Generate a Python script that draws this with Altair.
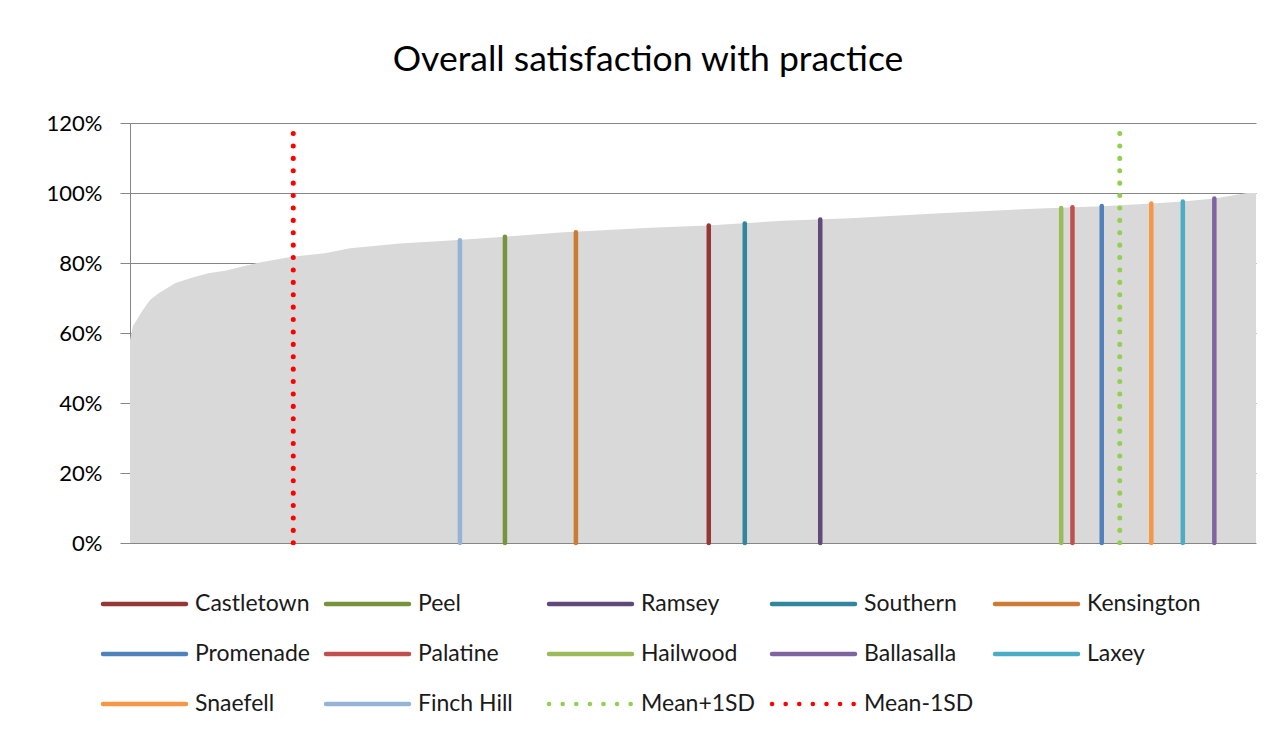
import altair as alt
import pandas as pd

# ---- data ----
curve_rank = [0, 0.27, 1.04, 1.78, 2.51, 4.0, 5.48, 6.95, 8.44, 9.92, 11.39, 14.36, 17.32,
              19.54, 23.98, 28.42, 33.3, 38.19, 46.18, 51.3, 57.99, 63.94, 71.94, 80.82,
              86.3, 90.8, 93.5, 96.3, 99.2, 100]
curve_value = [0.58, 0.62, 0.661, 0.694, 0.713, 0.742, 0.758, 0.771, 0.778, 0.789, 0.801,
               0.818, 0.828, 0.842, 0.856, 0.864, 0.875, 0.887, 0.901, 0.907, 0.921, 0.928,
               0.942, 0.956, 0.962, 0.970, 0.976, 0.984, 1.0, 1.0]

practices = ["Castletown", "Peel", "Ramsey", "Southern", "Kensington", "Promenade",
             "Palatine", "Hailwood", "Ballasalla", "Laxey", "Snaefell", "Finch Hill"]
practice_rank = [51.4, 33.3, 61.3, 54.6, 39.6, 86.3, 83.7, 82.7, 96.3, 93.5, 90.7, 29.3]
practice_score = [0.907, 0.875, 0.924, 0.913, 0.888, 0.963, 0.959, 0.957, 0.984, 0.976,
                  0.970, 0.865]

mean_names = ["Mean+1SD", "Mean-1SD"]
mean_rank = [87.9, 14.5]
mean_top = [1.17, 1.17]

y_ticks = [0, 0.2, 0.4, 0.6, 0.8, 1.0, 1.2]

# ---- styles ----
practice_colors = ["#953735", "#77933C", "#604A7B", "#31859C", "#CD7A34", "#4F81BD",
                   "#C0504D", "#9BBB59", "#8064A2", "#4BACC6", "#F79646", "#95B3D7"]
mean_colors = ["#92D050", "#FF0000"]
FONT = "Lato"
GRID = "#868686"

all_names = practices + mean_names
color_scale = alt.Scale(domain=all_names, range=practice_colors + mean_colors)

curve_df = pd.DataFrame({"rank": curve_rank, "value": curve_value})
prac_df = pd.DataFrame({"name": practices, "rank": practice_rank, "score": practice_score})
mean_df = pd.DataFrame({"name": mean_names, "rank": mean_rank, "top": mean_top})

x_scale = alt.Scale(domain=[0, 100], nice=False, zero=False)
y_scale = alt.Scale(domain=[0, 1.2], nice=False)

area = alt.Chart(curve_df).mark_area(color="#D9D9D9", interpolate="linear").encode(
    x=alt.X("rank:Q", scale=x_scale, axis=None),
    y=alt.Y("value:Q", scale=y_scale,
            axis=alt.Axis(values=y_ticks, format=".0%", title=None,
                          labelFont=FONT, labelFontSize=22, labelColor="#000000",
                          labelPadding=18, tickSize=10, tickColor=GRID, domainColor=GRID,
                          gridColor=GRID, gridWidth=1, domainWidth=1,
                          minExtent=122, maxExtent=122)),
)

prac = alt.Chart(prac_df).mark_rule(strokeWidth=4.5, strokeCap="round").encode(
    x=alt.X("rank:Q", scale=x_scale),
    y=alt.Y("score:Q", scale=y_scale),
    y2=alt.datum(0),
    color=alt.Color("name:N", scale=color_scale, legend=None),
)

means = alt.Chart(mean_df).mark_rule(strokeWidth=5, strokeCap="round",
                                     strokeDash=[0.1, 12.3]).encode(
    x=alt.X("rank:Q", scale=x_scale),
    y=alt.Y("top:Q", scale=y_scale),
    y2=alt.datum(0),
    color=alt.Color("name:N", scale=color_scale, legend=None),
)

main = alt.layer(area, prac, means).properties(width=1126, height=420)

# ---- legend (manual, 5 columns) ----
leg_df = pd.DataFrame({
    "name": all_names,
    "col": [i % 5 for i in range(len(all_names))],
    "row": [i // 5 for i in range(len(all_names))],
    "kind": ["solid"] * len(practices) + ["dotted"] * len(mean_names),
})
lx = alt.Scale(domain=[0.121, 5.26], nice=False, zero=False)
ly = alt.Scale(domain=[-0.5, 2.3], nice=False, zero=False, reverse=True)

leg_solid = alt.Chart(leg_df).transform_filter(alt.datum.kind == "solid").mark_rule(
    strokeWidth=4.5, strokeCap="round", x2Offset=83).encode(
    x=alt.X("col:Q", scale=lx, axis=None),
    x2="col:Q",
    y=alt.Y("row:Q", scale=ly, axis=None),
    color=alt.Color("name:N", scale=color_scale, legend=None),
)
leg_dot = alt.Chart(leg_df).transform_filter(alt.datum.kind == "dotted").mark_rule(
    strokeWidth=4.5, strokeCap="round", strokeDash=[0.1, 13.5], x2Offset=83).encode(
    x=alt.X("col:Q", scale=lx, axis=None),
    x2="col:Q",
    y=alt.Y("row:Q", scale=ly, axis=None),
    color=alt.Color("name:N", scale=color_scale, legend=None),
)
leg_text = alt.Chart(leg_df).mark_text(align="left", baseline="middle", dx=92,
                                       font=FONT, fontSize=23, color="#1a1a1a").encode(
    x=alt.X("col:Q", scale=lx, axis=None),
    y=alt.Y("row:Q", scale=ly, axis=None),
    text="name:N",
)
legend = alt.layer(leg_solid, leg_dot, leg_text).properties(width=1146, height=140)

chart = alt.vconcat(main, legend, spacing=25).properties(
    title=alt.Title("Overall satisfaction with practice", font=FONT, fontSize=35.5,
                    fontWeight="normal", color="#000000", anchor="middle", offset=34,
                    dx=6),
    padding={"top": 34, "left": 0, "right": 0, "bottom": 0},
).configure_view(stroke=None)

chart.save("out.html", embed_options={"renderer": "svg", "actions": False})
